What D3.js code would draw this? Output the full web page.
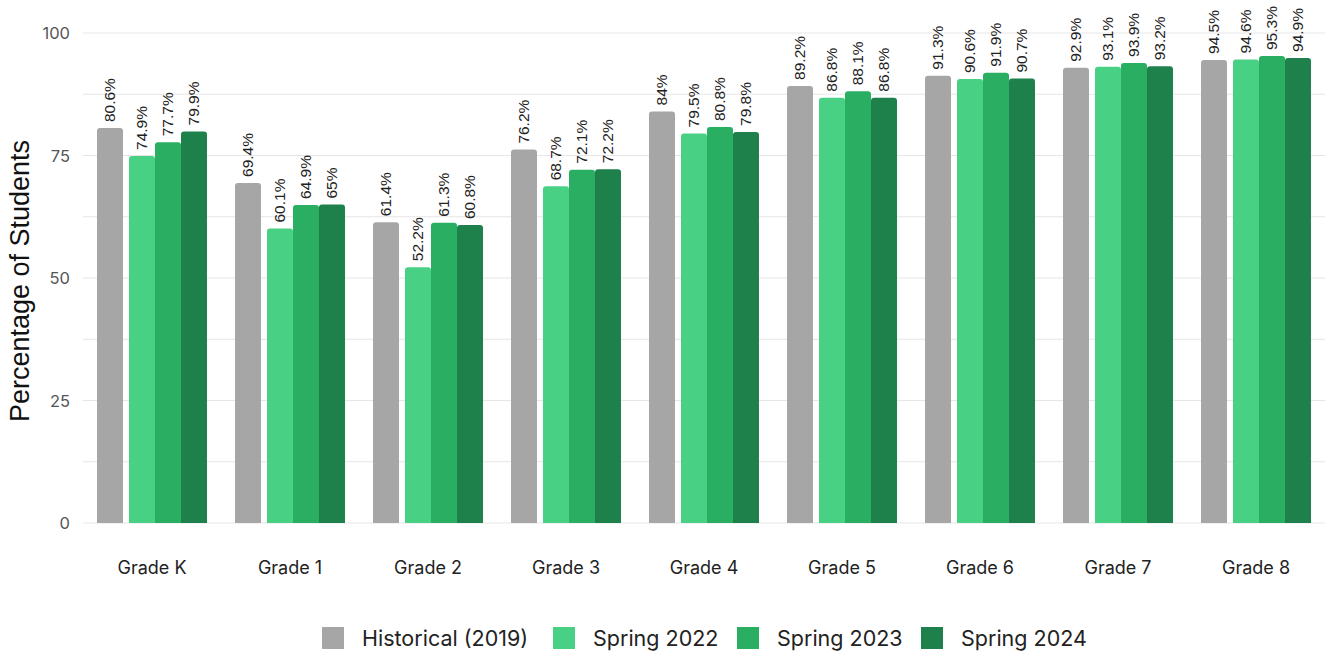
<!DOCTYPE html>
<html>
<head>
<meta charset="utf-8">
<script src="https://cdn.jsdelivr.net/npm/d3@7"></script>
<style>
  html, body { margin: 0; padding: 0; background: #fff; }
  svg { display: block; }
</style>
</head>
<body>
<svg id="chart" width="1326" height="653"></svg>
<script>
// Grades and series
const grades = ["Grade K", "Grade 1", "Grade 2", "Grade 3", "Grade 4", "Grade 5", "Grade 6", "Grade 7", "Grade 8"];
const seriesNames = ["Historical (2019)", "Spring 2022", "Spring 2023", "Spring 2024"];
const historical2019 = [80.6, 69.4, 61.4, 76.2, 84, 89.2, 91.3, 92.9, 94.5];
const spring2022 = [74.9, 60.1, 52.2, 68.7, 79.5, 86.8, 90.6, 93.1, 94.6];
const spring2023 = [77.7, 64.9, 61.3, 72.1, 80.8, 88.1, 91.9, 93.9, 95.3];
const spring2024 = [79.9, 65, 60.8, 72.2, 79.8, 86.8, 90.7, 93.2, 94.9];
const yTicks = [0, 25, 50, 75, 100];
const yGrid = [0, 12.5, 25, 37.5, 50, 62.5, 75, 87.5, 100];
const colors = ["#a6a6a6", "#48d185", "#29ae62", "#1e814b"];

const seriesValues = [historical2019, spring2022, spring2023, spring2024];
const rows = [];
grades.forEach((g, gi) => {
  seriesNames.forEach((s, si) => rows.push({ grade: g, series: s, si, value: seriesValues[si][gi] }));
});

const svg = d3.select("#chart");
const uiFont = "Inter, 'Open Sans', sans-serif";
const valFont = "'Liberation Sans', Arial, sans-serif";

const x = d3.scaleBand().domain(grades).range([83, 1325]).padding(0);
const y = d3.scaleLinear().domain([0, 100]).range([523, 33]);

// Inner layout: historical bar stands apart, the three spring bars touch
const xHist = d3.scaleBand().domain([seriesNames[0]]).range([14, 40]);
const xSpring = d3.scaleBand().domain(seriesNames.slice(1)).range([46, 124]);
const barX = d => x(d.grade) + (d.si === 0 ? xHist(d.series) : xSpring(d.series));
const barW = d => (d.si === 0 ? xHist.bandwidth() : xSpring.bandwidth());

// Gridlines
svg.append("g")
  .selectAll("line")
  .data(yGrid)
  .join("line")
  .attr("x1", 83).attr("x2", 1325)
  .attr("y1", d => y(d)).attr("y2", d => y(d))
  .attr("stroke", "#e6e6e6")
  .attr("stroke-width", 1);

// Y axis labels
const yAxis = d3.axisLeft(y).tickValues(yTicks).tickSize(0).tickPadding(0);
const gy = svg.append("g").attr("transform", "translate(70,0)").call(yAxis);
gy.select(".domain").remove();
gy.selectAll("text")
  .attr("font-family", uiFont)
  .attr("font-size", 16.5)
  .attr("fill", "#555")
  .attr("dy", "0.35em");

// Y axis title
svg.append("text")
  .attr("transform", `translate(29,281) rotate(-90)`)
  .attr("text-anchor", "middle")
  .attr("font-family", valFont)
  .attr("font-size", 27)
  .attr("fill", "#111")
  .text("Percentage of Students");

// Bars with rounded top corners
const r = 3;
function barPath(d) {
  const x0 = barX(d), w = barW(d), y0 = y(d.value), y1 = y(0);
  return `M${x0},${y1}V${y0 + r}Q${x0},${y0} ${x0 + r},${y0}H${x0 + w - r}Q${x0 + w},${y0} ${x0 + w},${y0 + r}V${y1}Z`;
}
svg.append("g")
  .selectAll("path")
  .data(rows)
  .join("path")
  .attr("d", barPath)
  .attr("fill", d => colors[d.si]);

// Value labels, rotated above each bar
svg.append("g")
  .selectAll("text")
  .data(rows)
  .join("text")
  .attr("transform", d => `translate(${barX(d) + barW(d) / 2},${y(d.value) - 6}) rotate(-90)`)
  .attr("dy", "0.35em")
  .attr("font-family", valFont)
  .attr("font-size", 15.5)
  .attr("fill", "#222")
  .text(d => d.value + "%");

// X axis labels
const xAxis = d3.axisBottom(x).tickSize(0).tickPadding(0);
const gx = svg.append("g").attr("transform", "translate(0,568)").call(xAxis);
gx.select(".domain").remove();
gx.selectAll("text")
  .attr("font-family", uiFont)
  .attr("font-size", 18)
  .attr("fill", "#222")
  .attr("dy", "0.35em");

// Legend
const legendX = [322, 553, 737, 921];
const legend = svg.append("g")
  .selectAll("g")
  .data(seriesNames)
  .join("g")
  .attr("transform", (d, i) => `translate(${legendX[i]},638)`);
legend.append("rect")
  .attr("x", 0).attr("y", -11)
  .attr("width", 22).attr("height", 22)
  .attr("fill", (d, i) => colors[i]);
legend.append("text")
  .attr("x", 40)
  .attr("dy", "0.35em")
  .attr("font-family", uiFont)
  .attr("font-size", 21.5)
  .attr("fill", "#222")
  .text(d => d);
</script>
</body>
</html>
